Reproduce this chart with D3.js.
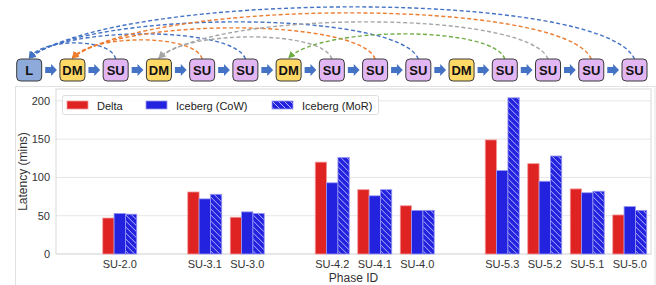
<!DOCTYPE html>
<html>
<head>
<meta charset="utf-8">
<script src="https://cdn.jsdelivr.net/npm/d3@7"></script>
<style>
  body { margin: 0; background: #fff; }
  svg { display: block; font-family: "Liberation Sans", Arial, sans-serif; }
</style>
</head>
<body>
<svg id="chart" width="656" height="285"></svg>
<script>
// Pipeline of phases (top diagram)
var nodeTypes = ["L", "DM", "SU", "DM", "SU", "SU", "DM", "SU", "SU", "SU", "DM", "SU", "SU", "SU", "SU"];
// [source, target] node index of each dashed dependency
var dependencies = [[2, 0], [5, 0], [9, 0], [14, 0], [4, 1], [8, 1], [13, 1], [7, 3], [12, 3], [11, 6]];

// Bar chart data
var slots = ["gap0", "SU-2.0", "gap1", "SU-3.1", "SU-3.0", "gap2", "SU-4.2", "SU-4.1", "SU-4.0",
             "gap3", "SU-5.3", "SU-5.2", "SU-5.1", "SU-5.0"];
var phases = ["SU-2.0", "SU-3.1", "SU-3.0", "SU-4.2", "SU-4.1", "SU-4.0", "SU-5.3", "SU-5.2", "SU-5.1", "SU-5.0"];
var series = ["Delta", "Iceberg (CoW)", "Iceberg (MoR)"];
var delta = [47, 81, 48, 120, 84, 63, 149, 118, 85, 51];
var cow   = [53, 72, 55, 93, 76, 57, 109, 95, 80, 62];
var mor   = [52, 78, 53, 126, 84, 57, 204, 128, 82, 57];
var yTicks = [0, 50, 100, 150, 200];

var svg = d3.select("#chart");
var defs = svg.append("defs");

// Hatch pattern for MoR bars
defs.append("pattern")
    .attr("id", "hatch")
    .attr("patternUnits", "userSpaceOnUse")
    .attr("width", 6)
    .attr("height", 6)
    .append("path")
    .attr("d", "M0,0 L6,6 M-1,5 L1,7 M5,-1 L7,1")
    .attr("stroke", "#b4b4ff")
    .attr("stroke-width", 1);

// ---------- Top diagram ----------
var nodeX = d3.scalePoint().domain(d3.range(nodeTypes.length)).range([29.2, 634.5]);
var nodeW = 25, nodeH = 22, nodeTop = 59;
var nodeFill = { L: "#8eaadb", DM: "#ffd966", SU: "#e2b6f3" };
var arcColor = d3.scaleOrdinal().domain([0, 1, 3, 6]).range(["#4472c4", "#ed7d31", "#a5a5a5", "#70ad47"]);

arcColor.domain().forEach(function (t) {
    defs.append("marker")
        .attr("id", "head" + t)
        .attr("viewBox", "0 0 10 10")
        .attr("refX", 9)
        .attr("refY", 5)
        .attr("markerUnits", "userSpaceOnUse")
        .attr("markerWidth", 7)
        .attr("markerHeight", 7)
        .attr("orient", "auto")
        .append("path")
        .attr("d", "M0,0 L10,5 L0,10 z")
        .attr("fill", arcColor(t));
});

svg.append("g").selectAll("path")
    .data(dependencies)
    .enter()
    .append("path")
    .attr("fill", "none")
    .attr("stroke", d => arcColor(d[1]))
    .attr("stroke-width", 1.4)
    .attr("stroke-dasharray", "4,2.5")
    .attr("marker-end", d => "url(#head" + d[1] + ")")
    .attr("d", function (d) {
        var sx = nodeX(d[0]), tx = nodeX(d[1]);
        var span = sx - tx;
        var rise = 10 + 3 * (d[0] - d[1]);
        var cy = nodeTop - rise / 0.75;
        return "M" + sx + "," + nodeTop +
            " C" + (sx - span * 0.05) + "," + cy +
            " " + (tx + span * 0.15) + "," + cy +
            " " + tx + "," + (nodeTop - 1);
    });

// block arrows between nodes
svg.append("g").selectAll("path")
    .data(d3.range(nodeTypes.length - 1))
    .enter()
    .append("path")
    .attr("fill", "#4472c4")
    .attr("d", function (i) {
        var x0 = nodeX(i) + nodeW / 2 + 3.5, x1 = nodeX(i + 1) - nodeW / 2 - 3, cy = nodeTop + nodeH / 2;
        var xm = x0 + (x1 - x0) * 0.5;
        return "M" + x0 + "," + (cy - 3) + " L" + xm + "," + (cy - 3) + " L" + xm + "," + (cy - 6) +
            " L" + x1 + "," + cy + " L" + xm + "," + (cy + 6) + " L" + xm + "," + (cy + 3) +
            " L" + x0 + "," + (cy + 3) + " Z";
    });

var nodes = svg.append("g").selectAll("g")
    .data(nodeTypes)
    .enter()
    .append("g")
    .attr("transform", (d, i) => "translate(" + nodeX(i) + "," + nodeTop + ")");

nodes.append("rect")
    .attr("x", -nodeW / 2)
    .attr("y", 0)
    .attr("width", nodeW)
    .attr("height", nodeH)
    .attr("rx", 4)
    .attr("fill", d => nodeFill[d])
    .attr("stroke", "#3a3a3a")
    .attr("stroke-width", 1);

nodes.append("text")
    .attr("x", 0)
    .attr("y", nodeH / 2 + 4.5)
    .attr("text-anchor", "middle")
    .attr("font-size", 13)
    .attr("font-weight", "bold")
    .attr("fill", "#111")
    .text(d => d);

// ---------- Bar chart ----------
var plotLeft = 56, plotRight = 651, plotTop = 89, plotBottom = 254;

// light border of the chart image
svg.append("rect")
    .attr("x", 15.5).attr("y", 86.5)
    .attr("width", 639.5).attr("height", 220)
    .attr("fill", "none")
    .attr("stroke", "#e2e2e2");

var x = d3.scaleBand().domain(slots).range([plotLeft, plotRight]).padding(0);
var x1 = d3.scaleBand().domain(series).range([0, x.bandwidth() * 0.8]).padding(0);
var y = d3.scaleLinear().domain([0, 215.5]).range([plotBottom, plotTop]);

// gridlines
svg.append("g").selectAll("line")
    .data(yTicks)
    .enter()
    .append("line")
    .attr("x1", plotLeft).attr("x2", plotRight)
    .attr("y1", d => y(d)).attr("y2", d => y(d))
    .attr("stroke", "#e6e6e6")
    .attr("stroke-width", 1);

svg.append("rect")
    .attr("x", plotLeft).attr("y", plotTop)
    .attr("width", plotRight - plotLeft).attr("height", plotBottom - plotTop)
    .attr("fill", "none")
    .attr("stroke", "#e0e0e0")
    .attr("stroke-width", 1.2);

var rows = phases.map((p, i) => ({ phase: p, values: [delta[i], cow[i], mor[i]] }));
var barFill = ["#df2222", "#2222df", "#2222df"];
var barEdge = ["#f29a9a", "#9a9af2", "#9a9af2"];

var groups = svg.append("g").selectAll("g")
    .data(rows)
    .enter()
    .append("g")
    .attr("transform", d => "translate(" + (x(d.phase) + x.bandwidth() * 0.1) + ",0)");

groups.selectAll("rect.bar")
    .data(d => d.values.map((v, k) => ({ s: series[k], k: k, v: v })))
    .enter()
    .append("rect")
    .attr("class", "bar")
    .attr("x", d => x1(d.s))
    .attr("y", d => y(d.v))
    .attr("width", x1.bandwidth())
    .attr("height", d => y(0) - y(d.v))
    .attr("fill", d => barFill[d.k])
    .attr("stroke", d => barEdge[d.k])
    .attr("stroke-width", 0.8);

groups.selectAll("rect.hatch")
    .data(d => [{ s: series[2], v: d.values[2] }])
    .enter()
    .append("rect")
    .attr("class", "hatch")
    .attr("x", d => x1(d.s) + 0.5)
    .attr("y", d => y(d.v) + 0.5)
    .attr("width", x1.bandwidth() - 1)
    .attr("height", d => y(0) - y(d.v) - 1)
    .attr("fill", "url(#hatch)");

// axes
var xAxis = svg.append("g")
    .attr("transform", "translate(0," + plotBottom + ")")
    .call(d3.axisBottom(x).tickSize(0).tickPadding(6).tickFormat(d => d.indexOf("gap") === 0 ? "" : d));
xAxis.select(".domain").remove();
xAxis.selectAll("text").attr("font-size", 11).attr("fill", "#333").attr("font-family", null);

var yAxis = svg.append("g")
    .attr("transform", "translate(" + plotLeft + ",0)")
    .call(d3.axisLeft(y).tickValues(yTicks).tickSize(0).tickPadding(6));
yAxis.select(".domain").remove();
yAxis.selectAll("text").attr("font-size", 11).attr("fill", "#333").attr("font-family", null);

svg.append("text")
    .attr("transform", "translate(27," + ((plotTop + plotBottom) / 2) + ") rotate(-90)")
    .attr("text-anchor", "middle")
    .attr("font-size", 12)
    .attr("fill", "#333")
    .text("Latency (mins)");

svg.append("text")
    .attr("x", (plotLeft + plotRight) / 2)
    .attr("y", 282)
    .attr("text-anchor", "middle")
    .attr("font-size", 12)
    .attr("fill", "#333")
    .text("Phase ID");

// legend
var legend = svg.append("g");
legend.append("rect")
    .attr("x", 62.5).attr("y", 95.5)
    .attr("width", 316).attr("height", 19)
    .attr("rx", 2)
    .attr("fill", "#fff").attr("fill-opacity", 0.85)
    .attr("stroke", "#dddddd");

var legendX = [67, 146, 272];
var items = legend.selectAll("g")
    .data(series)
    .enter()
    .append("g")
    .attr("transform", (d, i) => "translate(" + legendX[i] + ",101)");

items.append("rect")
    .attr("width", 21).attr("height", 8)
    .attr("fill", (d, i) => barFill[i])
    .attr("stroke", (d, i) => barEdge[i])
    .attr("stroke-width", 0.8);

items.filter((d, i) => i === 2)
    .append("rect")
    .attr("x", 0.5).attr("y", 0.5)
    .attr("width", 20).attr("height", 7)
    .attr("fill", "url(#hatch)");

items.append("text")
    .attr("x", 30)
    .attr("y", 8.5)
    .attr("font-size", 11)
    .attr("fill", "#222")
    .text(d => d);
</script>
</body>
</html>
